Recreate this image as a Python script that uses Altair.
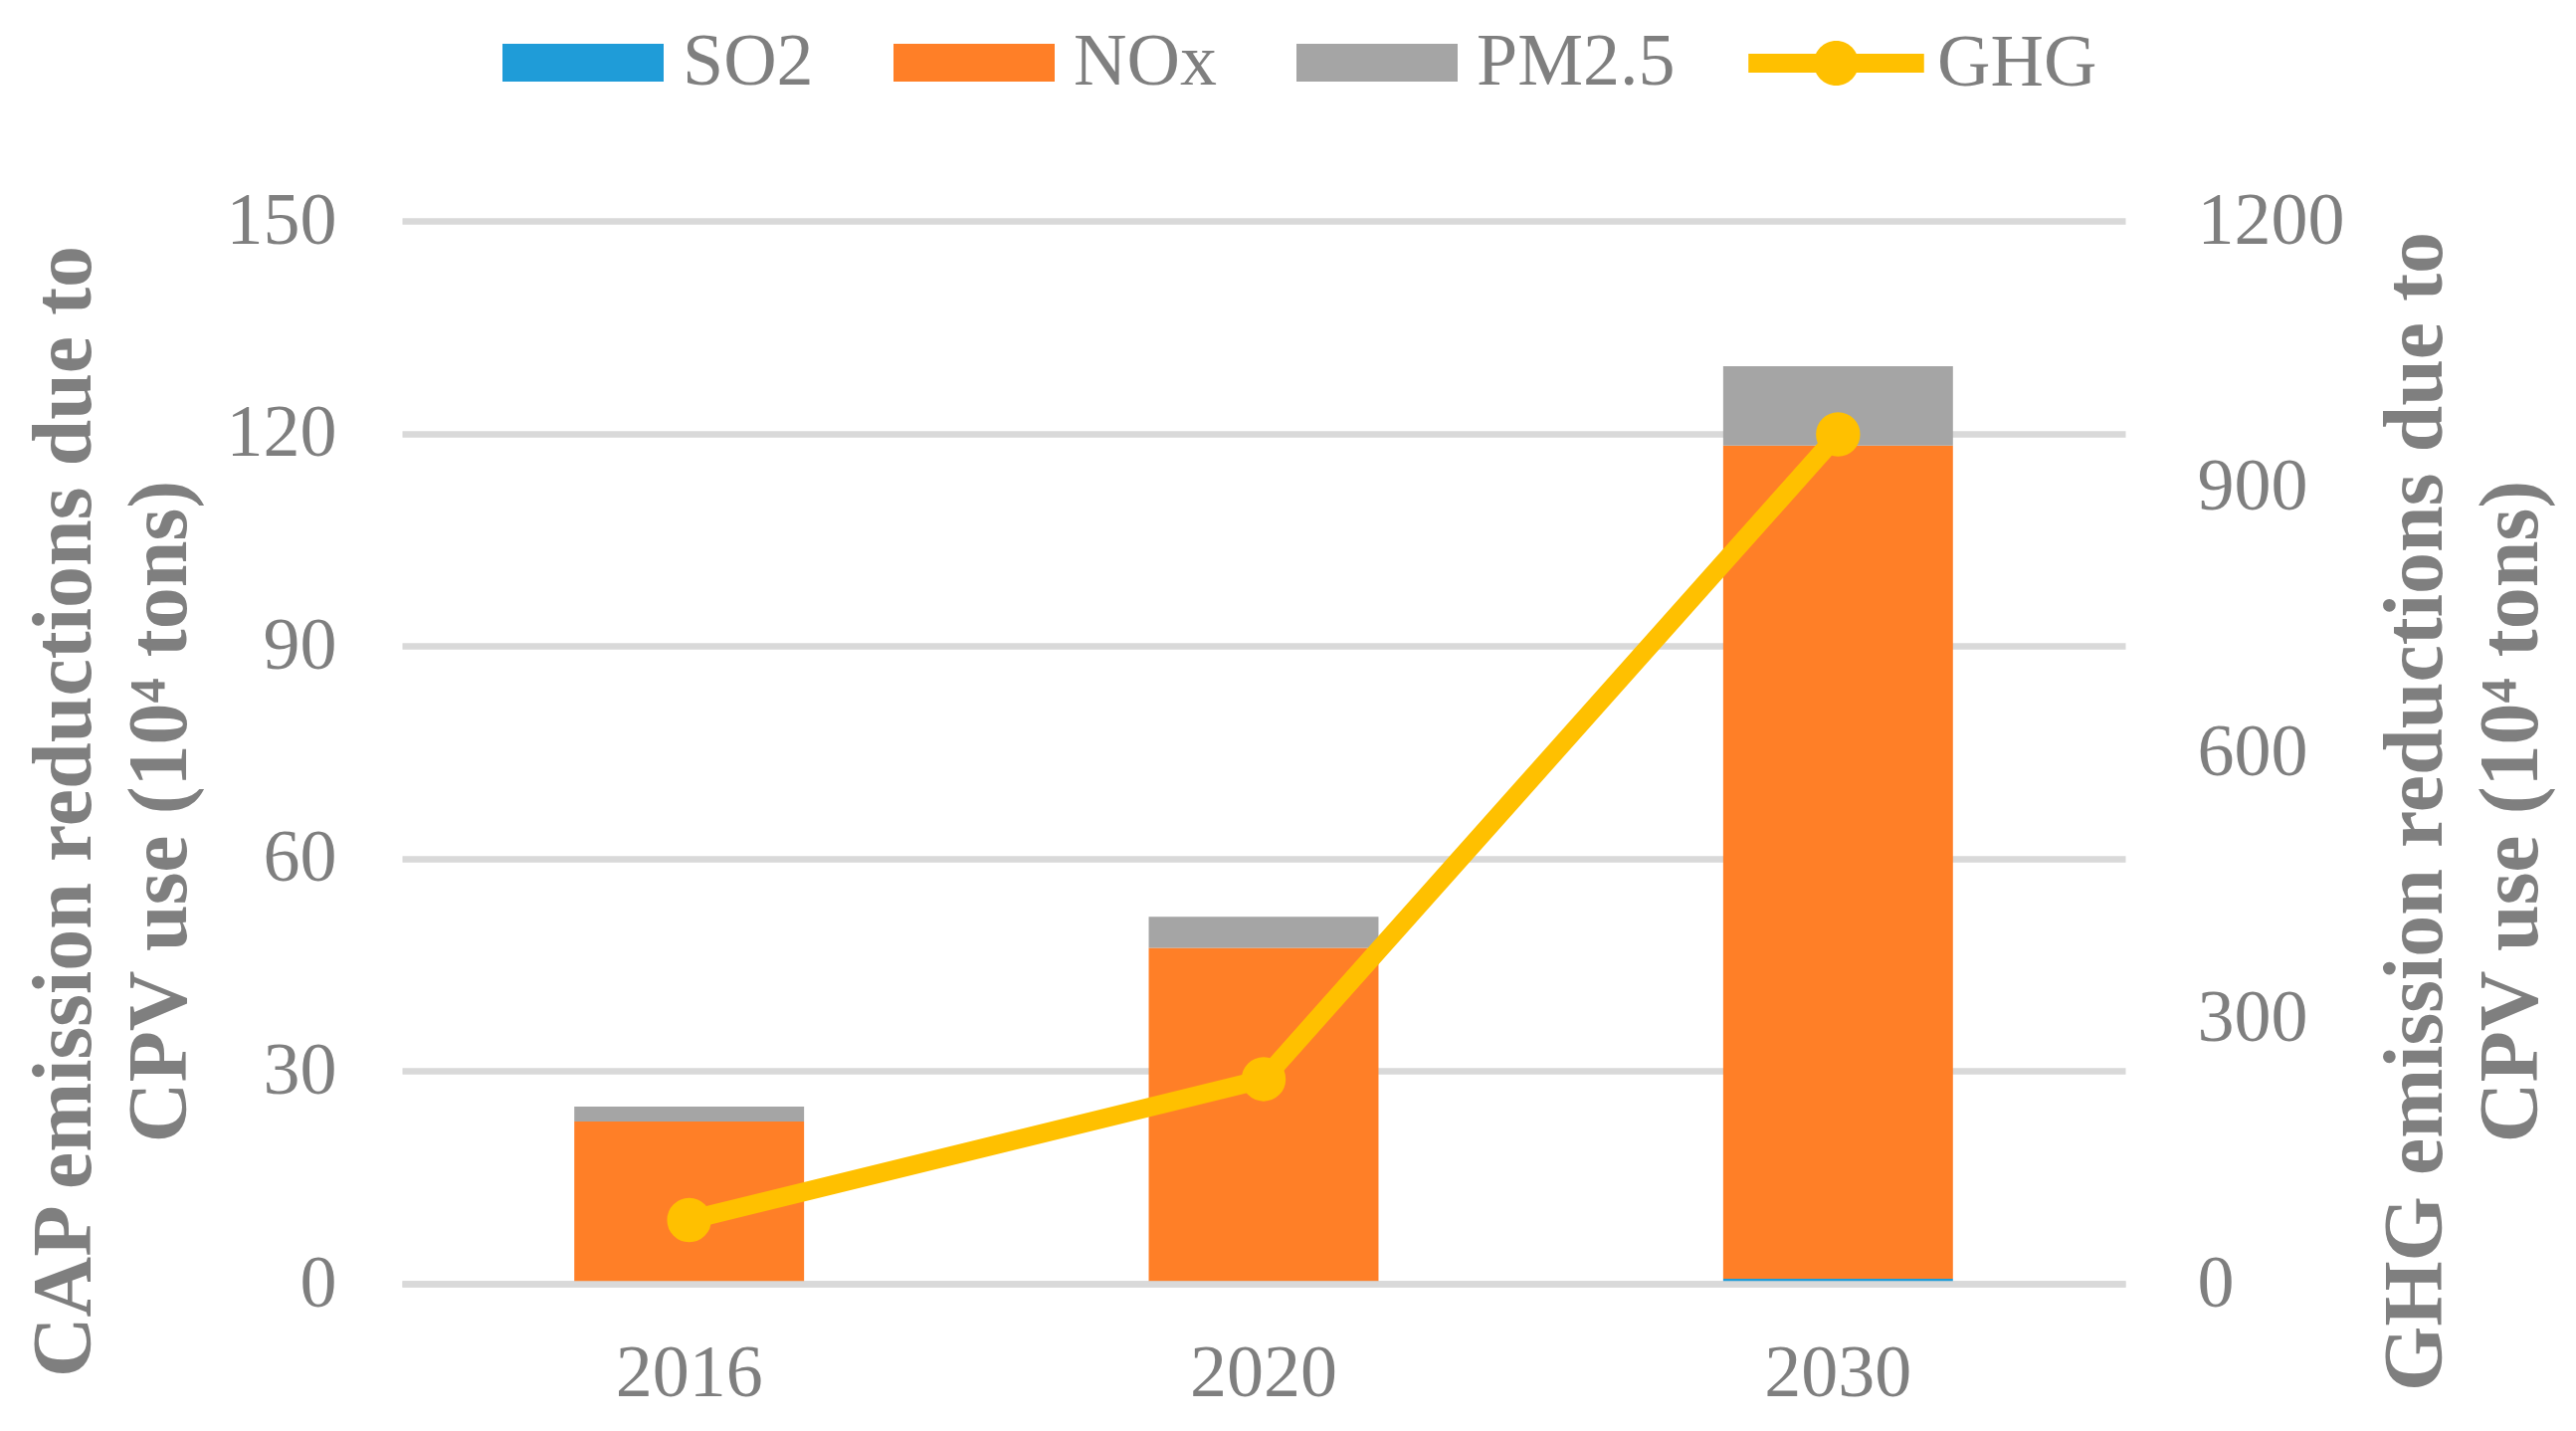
import altair as alt
import pandas as pd

years = ["2016", "2020", "2030"]
so2 = [0.2, 0.3, 0.7]
nox = [22.7, 47.1, 117.6]
pm25 = [2.1, 4.4, 11.2]
ghg = [72, 231, 959]

series_names = ["SO2", "NOx", "PM2.5"]
series_colors = ["#1F9CD8", "#FF7F27", "#A5A5A5"]
ghg_color = "#FFC000"
text_color = "#7F7F7F"
grid_color = "#D9D9D9"
font = "Liberation Serif"

left_title = ["CAP emission reductions due to", "CPV use (10\u2074 tons)"]
right_title = ["GHG emission reductions due to", "CPV use (10\u2074 tons)"]

rows = []
for i, y in enumerate(years):
    for k, (name, vals) in enumerate(zip(series_names, [so2, nox, pm25])):
        rows.append({"year": y, "series": name, "value": vals[i], "ord": k})
bars_df = pd.DataFrame(rows)
line_df = pd.DataFrame({"year": years, "ghg": ghg, "series": ["GHG"] * 3})

x_enc = alt.X(
    "year:N",
    sort=years,
    scale=alt.Scale(paddingInner=0.6, paddingOuter=0.3),
    axis=alt.Axis(
        title=None, labelAngle=0, ticks=False, tickSize=0,
        domain=True, domainColor=grid_color, domainWidth=6.5,
        labelFont=font, labelFontSize=74, labelColor=text_color,
        labelBaseline="alphabetic", labelPadding=112, zindex=1,
    ),
)

bar_path = "M-1,-0.235H1V0.235H-1Z"
ghg_path = ("M-1,-0.108H1V0.108H-1Z "
            "M0.255,0A0.255,0.255 0 1 1 -0.255,0A0.255,0.255 0 1 1 0.255,0Z")

bars = alt.Chart(bars_df).mark_bar().encode(
    x=x_enc,
    y=alt.Y(
        "value:Q",
        stack="zero",
        scale=alt.Scale(domain=[0, 150], nice=False),
        axis=alt.Axis(
            title=left_title, values=[0, 30, 60, 90, 120, 150], format="d",
            grid=True, gridColor=grid_color, gridWidth=6.5,
            ticks=False, tickSize=0, domain=False,
            labelFont=font, labelFontSize=74, labelColor=text_color,
            labelPadding=66,
            titleFont=font, titleFontSize=84, titleFontWeight="bold",
            titleColor=text_color, titleAngle=270, titleBaseline="alphabetic",
            titleAlign="center", titleX=-314, titleY=593, titleLineHeight=96,
        ),
    ),
    color=alt.Color(
        "series:N",
        scale=alt.Scale(domain=series_names, range=series_colors),
        legend=alt.Legend(
            title=None, orient="none", legendX=101, legendY=-240,
            direction="horizontal", symbolType=bar_path, symbolSize=26244,
            symbolStrokeWidth=0, symbolOpacity=1, labelFont=font,
            labelFontSize=74, labelColor=text_color, labelOffset=19,
            columnPadding=80, padding=0, labelLimit=500,
        ),
    ),
    order=alt.Order("ord:Q", sort="ascending"),
)

line = alt.Chart(line_df).mark_line(
    strokeWidth=19,
    point=alt.OverlayMarkDef(filled=True, fill=ghg_color, size=1800, opacity=1),
).encode(
    x=alt.X("year:N", sort=years),
    y=alt.Y(
        "ghg:Q",
        scale=alt.Scale(domain=[0, 1200], nice=False),
        axis=alt.Axis(
            orient="right", title=right_title, values=[0, 300, 600, 900, 1200],
            format="d",
            grid=False, ticks=False, tickSize=0, domain=False,
            labelFont=font, labelFontSize=74, labelColor=text_color,
            labelPadding=72,
            titleFont=font, titleFontSize=84, titleFontWeight="bold",
            titleColor=text_color, titleAngle=270, titleBaseline="alphabetic",
            titleAlign="center", titleX=317, titleY=593, titleLineHeight=96,
        ),
    ),
    stroke=alt.Stroke(
        "series:N",
        scale=alt.Scale(domain=["GHG"], range=[ghg_color]),
        legend=alt.Legend(
            title=None, orient="none", legendX=1353, legendY=-247,
            direction="horizontal", symbolType=ghg_path, symbolSize=31150,
            symbolFillColor=ghg_color, symbolStrokeWidth=0, symbolOpacity=1,
            labelFont=font, labelFontSize=74, labelColor=text_color,
            labelOffset=13, padding=0, labelLimit=500,
        ),
    ),
)

chart = alt.layer(bars, line).resolve_scale(
    y="independent", color="independent", stroke="independent"
).properties(
    width=1732,
    height=1068,
    autosize=alt.AutoSizeParams(type="none"),
    padding={"left": 396, "top": 214, "right": 440, "bottom": 130},
).configure_view(stroke=None)

chart.save("out.html", embed_options={"renderer": "svg", "actions": False})
